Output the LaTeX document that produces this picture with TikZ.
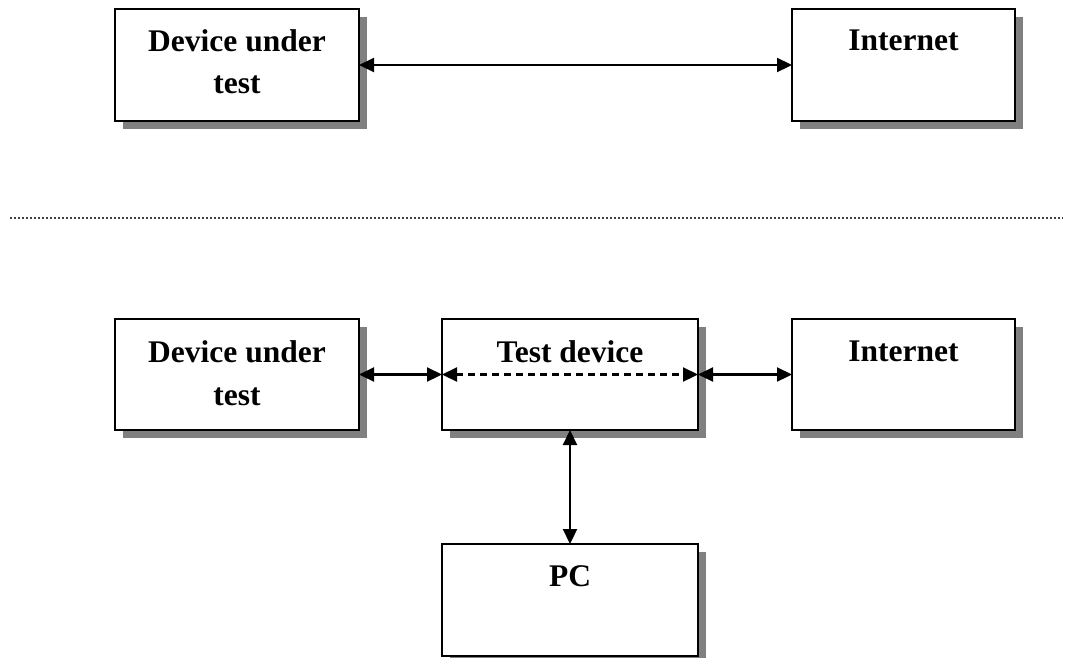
\documentclass[tikz,border=0pt]{standalone}
\usepackage{fontspec}
\setmainfont{Liberation Serif}
\usetikzlibrary{arrows.meta,shadows}
\tikzset{
  block/.style={draw=black, line width=2pt, fill=white, outer sep=0pt,
    anchor=north west,
    drop shadow={shadow xshift=8pt, shadow yshift=-8pt, fill=black!50, opacity=1}},
  blocklabel/.style={anchor=north, inner sep=0pt, align=center,
    font=\fontsize{31.5}{42.5}\selectfont\bfseries},
  link/.style={line width=2.2pt, {Triangle[length=15pt,width=14pt]}-{Triangle[length=15pt,width=14pt]}},
  inner link/.style={link, dash pattern=on 7pt off 5pt},
  separator/.style={line width=2pt, black!75, dash pattern=on 2pt off 2pt}
}
\begin{document}
\begin{tikzpicture}[x=1pt, y=-1pt]
\useasboundingbox (0,0) rectangle (1065,657);

% direct connection
\node[block, minimum width=244pt, minimum height=112pt] (dut1) at (115,9) {};
\node[block, minimum width=223pt, minimum height=112pt] (net1) at (792,9) {};
\node[blocklabel] (dut1lbl) at ([yshift=-20.3pt]dut1.north) {Device under\\test};
\node[blocklabel] (net1lbl) at ([yshift=-20.6pt]net1.north) {Internet};
\draw[link] (dut1.east) -- (net1.west);

% separator
\coordinate (sepL) at (10,218);
\coordinate (sepR) at (1063,218);
\draw[separator] (sepL) -- (sepR);

% connection through the test device
\node[block, minimum width=244pt, minimum height=111pt] (dut2) at (115,319) {};
\node[block, minimum width=256pt, minimum height=111pt] (test) at (442,319) {};
\node[block, minimum width=223pt, minimum height=111pt] (net2) at (792,319) {};
\node[block, minimum width=256pt, minimum height=112pt] (pc) at (442,544) {};
\node[blocklabel] (dut2lbl) at ([yshift=-21.5pt]dut2.north) {Device under\\test};
\node[blocklabel] (testlbl) at ([yshift=-21.8pt]test.north) {Test device};
\node[blocklabel] (net2lbl) at ([yshift=-21.8pt]net2.north) {Internet};
\node[blocklabel] (pclbl) at ([yshift=-21.5pt]pc.north) {PC};

\draw[link] (dut2.east) -- (test.west);
\draw[inner link] (test.west) -- (test.east);
\draw[link] (test.east) -- (net2.west);
\draw[link] (test.south) -- (pc.north);
\end{tikzpicture}
\end{document}
